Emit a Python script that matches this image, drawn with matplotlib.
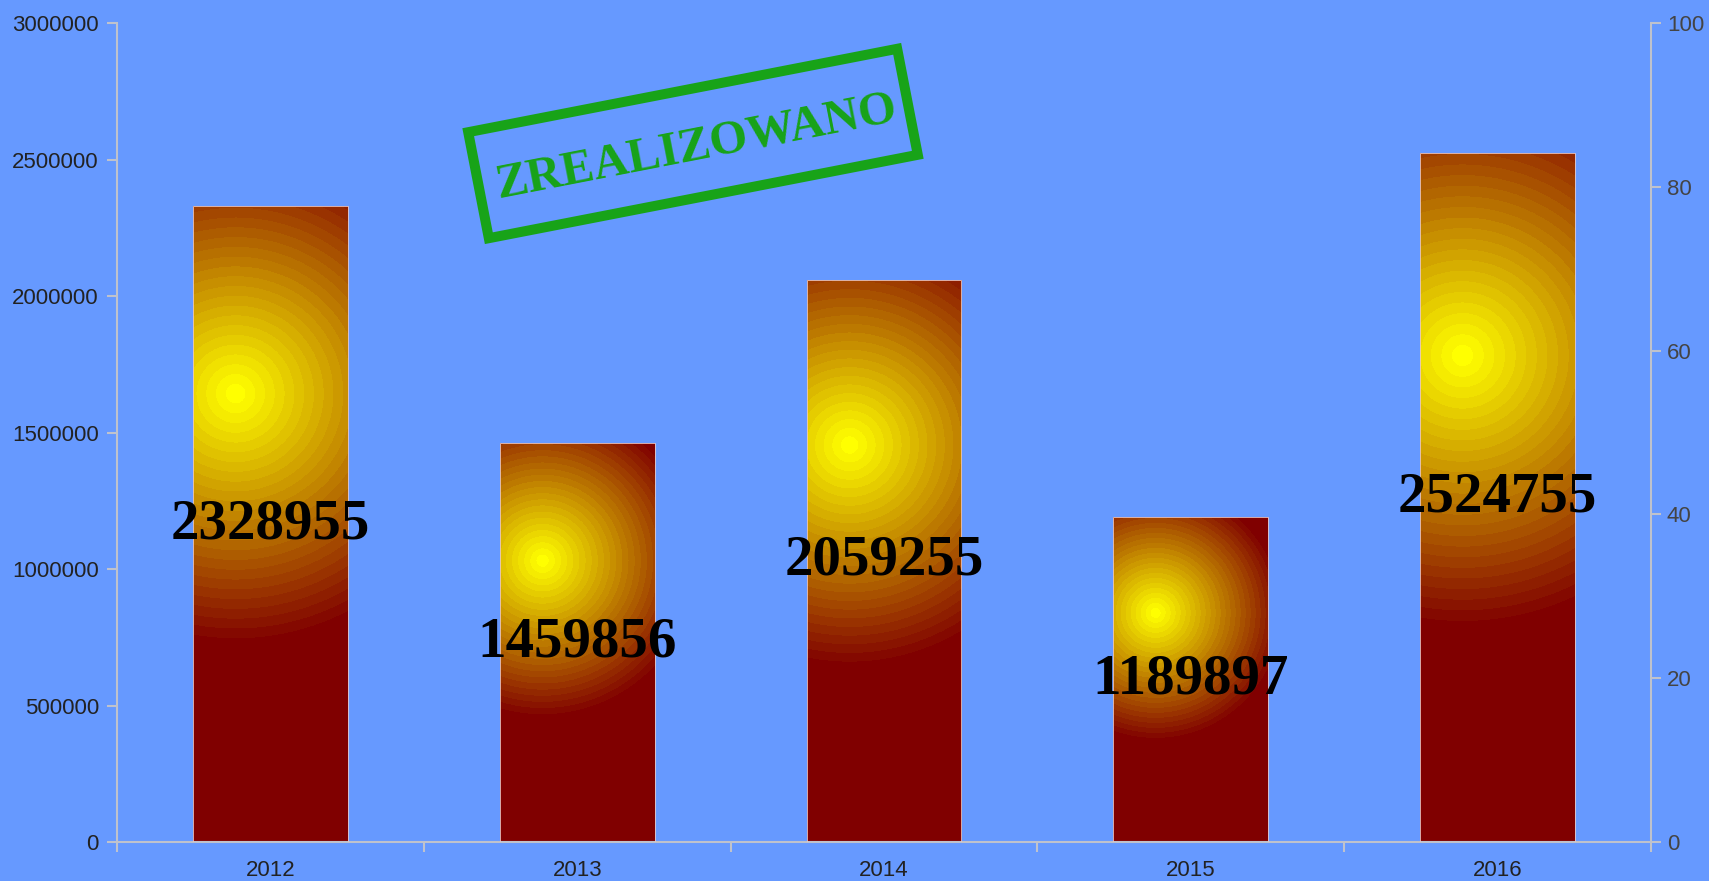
import matplotlib
matplotlib.use("Agg")
import matplotlib.pyplot as plt
import numpy as np
from matplotlib.colors import LinearSegmentedColormap
from matplotlib.patches import Rectangle
from matplotlib.transforms import Affine2D

# ---- data ----
years = ["2012", "2013", "2014", "2015", "2016"]
values = [2328955, 1459856, 2059255, 1189897, 2524755]
left_ticks = [0, 500000, 1000000, 1500000, 2000000, 2500000, 3000000]
right_ticks = [0, 20, 40, 60, 80, 100]
stamp_text = "ZREALIZOWANO"

# ---- style ----
BG = "#6699FF"
AXIS = "#BFC2CC"
STAMP = "#18A318"
W, H, DPI = 1709, 881, 100
BAR_W = 0.505

fig = plt.figure(figsize=(W / DPI, H / DPI), dpi=DPI, facecolor=BG)
ax = fig.add_axes([117 / W, 39 / H, 1534 / W, 819 / H])
ax.set_facecolor(BG)
ax.set_xlim(-0.5, len(years) - 0.5)
ax.set_ylim(0, 3000000)

# radial gradient, stepped like the original renderer
ramp = LinearSegmentedColormap.from_list("ramp", ["#FFFF00", "#800000"])
bands = 26
ax_w_px = 1534
ax_h_px = 819

for i, v in enumerate(values):
    x0, x1 = i - BAR_W / 2, i + BAR_W / 2
    w_px = BAR_W * ax_w_px / len(years)
    h_px = v / 3000000 * ax_h_px
    nx, ny = int(w_px) + 1, int(h_px) + 1
    u = (np.arange(nx) + 0.5) / nx
    t = (np.arange(ny) + 0.5) / ny
    U, T = np.meshgrid(u, t)
    d = np.hypot((U - 0.275) * w_px, (T - 0.295) * h_px) / (0.40 * h_px)
    d = np.clip(np.floor(d * bands) / (bands - 1), 0, 1)
    img = ramp(d)
    rect = Rectangle((x0, 0), BAR_W, v, facecolor="none",
                     edgecolor="#E8C8C8", lw=0.6, zorder=3)
    ax.add_patch(rect)
    im = ax.imshow(img, extent=(x0, x1, 0, v), origin="upper",
                   aspect="auto", interpolation="nearest", zorder=2)
    im.set_clip_path(rect)
    ax.text(i, v / 2, f"{v}", ha="center", va="center", fontsize=41,
            fontweight="bold", family="Liberation Serif", color="black",
            zorder=5)

# axes styling
for side in ["top", "right"]:
    ax.spines[side].set_visible(False)
for side in ["left", "bottom"]:
    ax.spines[side].set_color(AXIS)
    ax.spines[side].set_linewidth(1.5)

ax.set_yticks(left_ticks)
ax.set_yticklabels([str(t) for t in left_ticks])
ax.tick_params(axis="y", length=7, width=1.5, color=AXIS, pad=6,
               labelsize=16, labelcolor="#222222")
ax.set_xticks(range(len(years)))
ax.set_xticklabels(years)
ax.set_xticks(np.arange(-0.5, len(years)), minor=True)
ax.tick_params(axis="x", which="major", length=0, pad=13, labelsize=16,
               labelcolor="#222222")
ax.tick_params(axis="x", which="minor", length=7.5, width=1.5, color=AXIS)
for lab in ax.get_xticklabels() + ax.get_yticklabels():
    lab.set_family("Liberation Sans")

ax2 = ax.twinx()
ax2.set_ylim(0, 100)
ax2.set_yticks(right_ticks)
for side in ["top", "left", "bottom"]:
    ax2.spines[side].set_visible(False)
ax2.spines["right"].set_color(AXIS)
ax2.spines["right"].set_linewidth(1.5)
ax2.tick_params(axis="y", length=7.5, width=1.5, color=AXIS, pad=4,
                labelsize=16, labelcolor="#444444")
for lab in ax2.get_yticklabels():
    lab.set_family("Liberation Sans")

# stamp
cx, cy = 693, H - 143.5
frame = Rectangle((cx - 437 / 2, cy - 108 / 2), 437, 108, facecolor="none",
                  edgecolor=STAMP, lw=7.2,
                  transform=Affine2D().rotate_deg_around(cx, cy, 11))
fig.add_artist(frame)
fig.text((cx + 3) / W, (cy - 3) / H, stamp_text, rotation=11,
         rotation_mode="anchor", ha="center", va="center", fontsize=35,
         fontweight="bold", family="Liberation Serif", color=STAMP)

fig.savefig("out.png", dpi=DPI, facecolor=BG)
